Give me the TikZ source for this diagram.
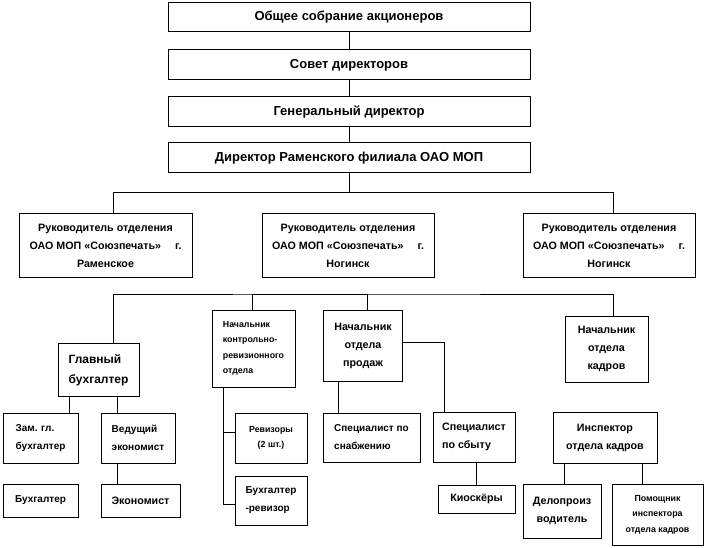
\documentclass[tikz,border=0pt]{standalone}
\usepackage{fontspec}
\setmainfont{Liberation Sans}
\usepackage{tikz}

\begin{document}
\begin{tikzpicture}[x=1pt, y=-1pt, line width=1pt,
    box/.style={draw, inner sep=0pt, align=center},
    lbox/.style={box, align=left},
    fT/.style={font=\fontsize{13}{20}\selectfont\bfseries},
    fA/.style={font=\fontsize{12}{20}\selectfont\bfseries},
    fB/.style={font=\fontsize{10.7}{18}\selectfont\bfseries},
    fC/.style={font=\fontsize{10}{18}\selectfont\bfseries},
    fD/.style={font=\fontsize{8.8}{15.5}\selectfont\bfseries}]
            \useasboundingbox (0,0) rectangle (704,548);
            \def\wtop{362}
            \def\soyuz{ОАО МОП «Союзпечать»\hspace{14pt}г.}
            % верхний уровень
            \node[box, fT, minimum width=\wtop, minimum height=29] (obsh) at (349,17.5) {Общее собрание акционеров};
            \node[box, fT, minimum width=\wtop, minimum height=30] (sovet) at (349,65) {Совет директоров};
            \node[box, fT, minimum width=\wtop, minimum height=30] (gendir) at (349,112) {Генеральный директор};
            \node[box, fT, minimum width=\wtop, minimum height=30] (dir) at (349,158) {Директор Раменского филиала ОАО МОП};
            \draw (obsh.south) -- (sovet.north);
            \draw (sovet.south) -- (gendir.north);
            \draw (gendir.south) -- (dir.north);
            % отделения
            \node[box, fB, minimum width=173, minimum height=63] (ruk1) at (105.5,245.5) {Руководитель отделения\\\soyuz\\Раменское};
            \node[box, fB, minimum width=172, minimum height=63] (ruk2) at (348,245.5) {Руководитель отделения\\\soyuz\\Ногинск};
            \node[box, fB, minimum width=172, minimum height=63] (ruk3) at (609,245.5) {Руководитель отделения\\\soyuz\\Ногинск};
            \coordinate (bus1) at ([yshift=-19pt]dir.south);
            \draw (dir.south) -- (bus1);
            \draw ([xshift=7.5pt]ruk1.north) |- (bus1) -| ([xshift=4pt]ruk3.north);
            % начальники
            \node[lbox, fA, minimum width=81, minimum height=53] (glbuh) at (98.5,370) {Главный\\бухгалтер};
            \node[lbox, fD, minimum width=83, minimum height=77] (kro) at (253.5,348.5) {Начальник\\контрольно-\\ревизионного\\отдела};
            \node[box, fB, minimum width=79, minimum height=71] (prod) at (363,345.5) {Начальник\\отдела\\продаж};
            \node[box, fB, minimum width=83, minimum height=66] (kadr) at (606.5,349) {Начальник\\отдела\\кадров};
            \coordinate (bus2) at (350,294);
            \draw ([xshift=14.5pt]glbuh.north) |- (bus2) -| ([xshift=6.5pt]kadr.north);
            \draw ([xshift=-1.5pt]kro.north) |- (bus2);
            \draw ([xshift=4pt]prod.north) |- (bus2);
            % бухгалтерия
            \node[lbox, fC, minimum width=75, minimum height=50] (zam) at (40.5,438) {Зам. гл.\\бухгалтер};
            \node[lbox, fC, minimum width=74, minimum height=50] (ved) at (138,438) {Ведущий\\экономист};
            \node[box, fC, minimum width=75, minimum height=33] (buh) at (40.5,500.5) {Бухгалтер};
            \node[box, fB, minimum width=79, minimum height=33] (ekon) at (140.5,500.5) {Экономист};
            \draw ([xshift=-29.5pt]glbuh.south) -- ([xshift=28.5pt]zam.north);
            \draw ([xshift=18.5pt]glbuh.south) -- ([xshift=-21pt]ved.north);
            \draw ([xshift=-21pt]ved.south) -- ([xshift=-23.5pt]ekon.north);
            % ревизия
            \node[box, fD, minimum width=72, minimum height=50] (rev) at (271,438) {Ревизоры\\(2 шт.)};
            \node[lbox, fC, minimum width=72, minimum height=49] (buhrev) at (271,500.5) {Бухгалтер\\-ревизор};
            \draw ([xshift=-30.5pt]kro.south) |- ([yshift=6pt]rev.west);
            \draw ([xshift=-30.5pt]kro.south) |- ([yshift=-3.5pt]buhrev.west);
            % продажи
            \node[lbox, fC, minimum width=97, minimum height=49] (snab) at (371.5,437.5) {Специалист по\\снабжению};
            \node[lbox, fB, minimum width=82, minimum height=50] (sbyt) at (474,437) {Специалист\\по сбыту};
            \node[box, fB, minimum width=77, minimum height=28] (kiosk) at (476.5,499) {Киоскёры};
            \draw ([xshift=-25pt]prod.south) -- ([xshift=-33.5pt]snab.north);
            \draw ([yshift=3.5pt]prod.east) -| ([xshift=-30pt]sbyt.north);
            \draw ([xshift=2pt]sbyt.south) -- ([xshift=-0.5pt]kiosk.north);
            % кадры
            \node[box, fB, minimum width=104, minimum height=51] (insp) at (605,437.5) {Инспектор\\отдела кадров};
            \node[box, fB, minimum width=78, minimum height=54] (delo) at (562,511) {Делопроиз\\водитель};
            \node[box, fD, minimum width=91, minimum height=61] (pomosh) at (657.5,514.5) {Помощник\\инспектора\\отдела кадров};
            \draw ([xshift=-41pt]insp.south) -- ([xshift=2pt]delo.north);
            \draw ([xshift=37pt]insp.south) -- ([xshift=-15.5pt]pomosh.north);
        \end{tikzpicture}
\end{document}
